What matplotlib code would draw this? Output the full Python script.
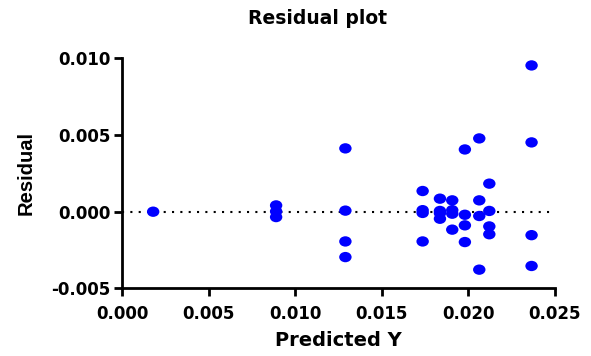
import matplotlib

matplotlib.use("Agg")
import matplotlib.pyplot as plt
from matplotlib.markers import MarkerStyle
from matplotlib.path import Path
from matplotlib.transforms import Affine2D

# predicted values and residuals
predicted = [
    0.0018,
    0.0089, 0.0089, 0.0089,
    0.0129, 0.0129, 0.0129, 0.0129,
    0.01736, 0.01736, 0.01736, 0.01736,
    0.01836, 0.01836, 0.01836, 0.01836,
    0.01907, 0.01907, 0.01907, 0.01907,
    0.0198, 0.0198, 0.0198, 0.0198,
    0.02063, 0.02063, 0.02063, 0.02063,
    0.02121, 0.02121, 0.02121, 0.02121,
    0.02365, 0.02365, 0.02365, 0.02365,
]
residual = [
    0.0,
    0.00041, 0.00002, -0.00035,
    0.00413, 0.00007, -0.00194, -0.00296,
    0.00135, 0.0001, -0.00008, -0.00194,
    0.00085, 0.00005, -0.0001, -0.00046,
    0.00074, 0.0001, -0.00013, -0.00117,
    0.00406, -0.0002, -0.00089, -0.00198,
    0.00478, 0.00074, -0.00028, -0.00378,
    0.00183, 0.00005, -0.00096, -0.00147,
    0.00954, 0.00452, -0.00153, -0.00354,
]
x_ticks = [0.000, 0.005, 0.010, 0.015, 0.020, 0.025]
y_ticks = [-0.005, 0.000, 0.005, 0.010]

plt.rcParams.update({"font.family": "DejaVu Sans", "font.weight": "bold"})

# the reference dots are a little wider than tall
oval = MarkerStyle(Path.unit_circle().transformed(Affine2D().scale(1.2, 1.0)))

fig = plt.figure(figsize=(5.91, 3.56), dpi=100)
ax = fig.add_axes([0.2064, 0.19, 0.7326, 0.646])

ax.plot([x_ticks[0], x_ticks[-1]], [0, 0], color="black", lw=1.5,
        linestyle=(0, (1, 3)), zorder=1)
ax.scatter(predicted, residual, s=80, marker=oval, color="#0000FF",
           edgecolors="none", zorder=3)

ax.set_xlim(x_ticks[0], x_ticks[-1])
ax.set_ylim(y_ticks[0], y_ticks[-1])
ax.set_xticks(x_ticks)
ax.set_yticks(y_ticks)
ax.set_xticklabels([f"{t:.3f}" for t in x_ticks])
ax.set_yticklabels([f"{t:.3f}" for t in y_ticks])
ax.tick_params(direction="out", length=6, width=2, labelsize=12)
ax.tick_params(axis="x", pad=6)
ax.tick_params(axis="y", pad=2)

for spine in ("top", "right"):
    ax.spines[spine].set_visible(False)
for spine in ("left", "bottom"):
    ax.spines[spine].set_linewidth(2)
    ax.spines[spine].set_capstyle("projecting")

ax.set_xlabel("Predicted Y", fontsize=14, fontweight="bold", labelpad=6)
ax.set_ylabel("Residual", fontsize=14.5, fontweight="bold",
              family="Liberation Sans", va="center")
ax.yaxis.set_label_coords(-0.222, 0.5)
fig.text(317 / 591, 1 - 18 / 356, "Residual plot", ha="center", va="center",
         fontsize=13.5, fontweight="bold")

fig.savefig("out.png", dpi=100, facecolor="white")
